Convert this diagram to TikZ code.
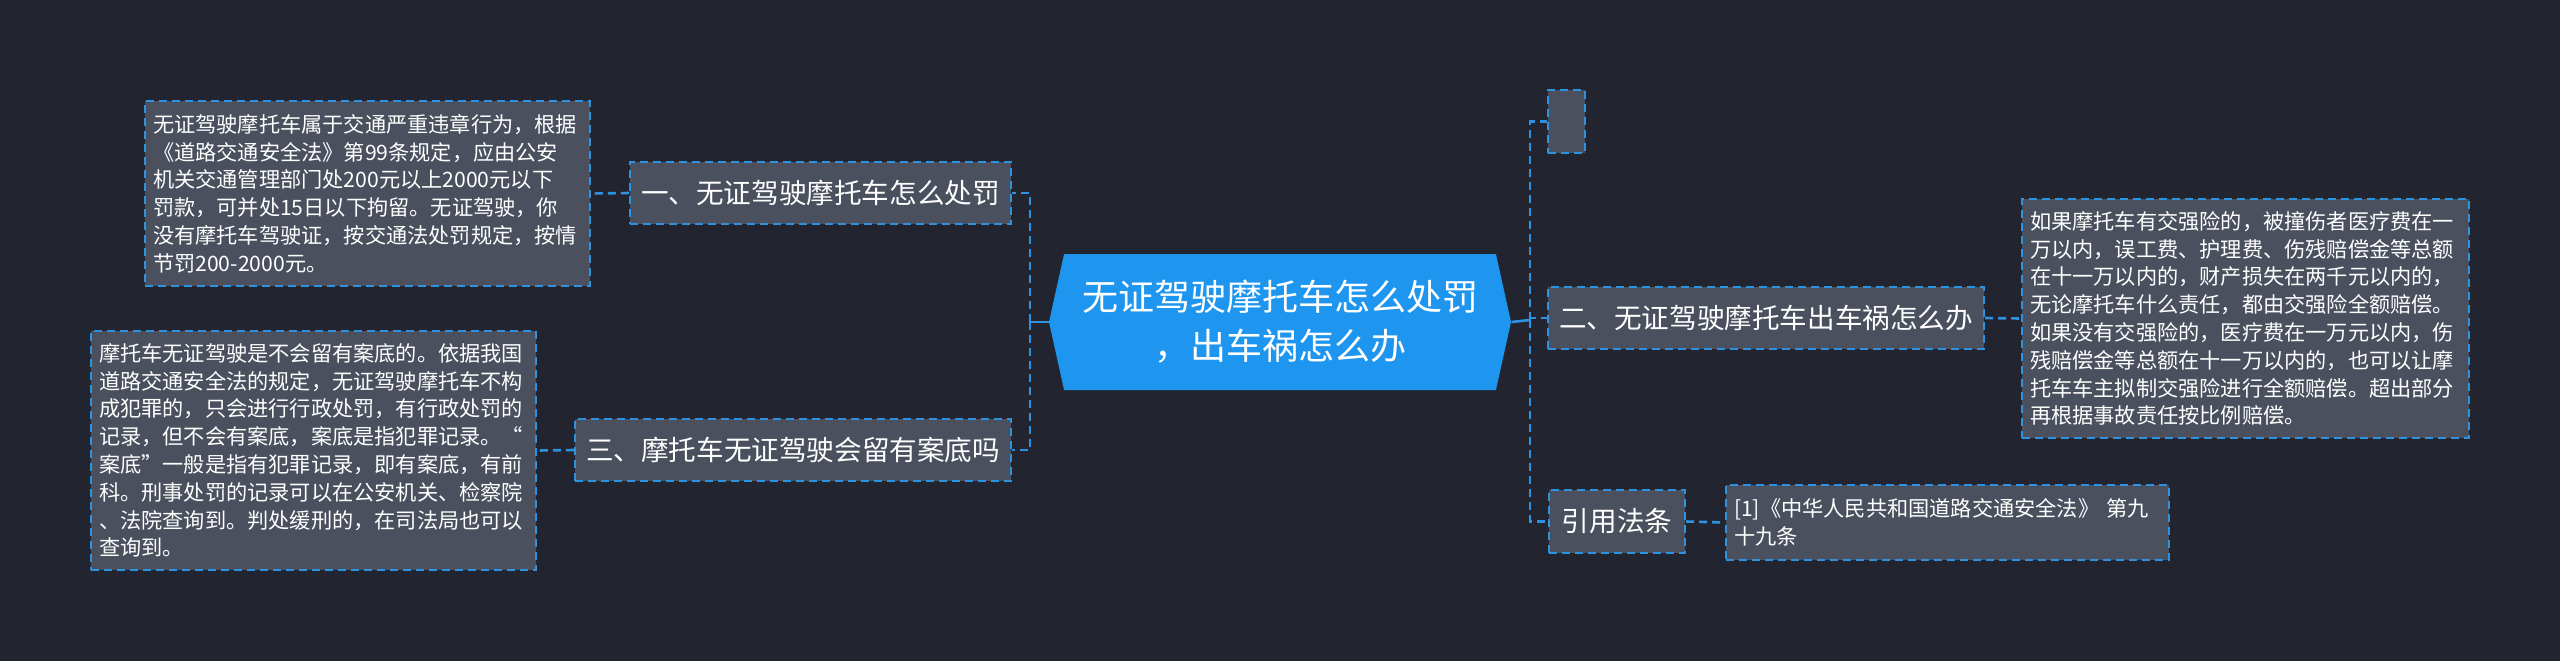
\documentclass[tikz,border=0pt]{standalone}
\usepackage{fontspec}
\setmainfont{Noto Sans CJK SC}
\usetikzlibrary{shapes.symbols}
\definecolor{bgdark}{HTML}{22252F}
\definecolor{boxgray}{HTML}{4A505E}
\definecolor{lineblue}{HTML}{2D93E0}
\definecolor{hubblue}{HTML}{1E96F0}

\begin{document}
\begin{tikzpicture}[x=0.5pt,y=-0.5pt,
  topic/.style={draw=lineblue,line width=1.2pt,dash pattern=on 4pt off 2.5pt,fill=boxgray,
    text=white,inner sep=0pt,minimum height=31pt,font=\fontsize{13.8}{16}\selectfont},
  note/.style={draw=lineblue,line width=1.2pt,dash pattern=on 4pt off 2.5pt,fill=boxgray,
    text=white,inner xsep=4pt,inner ysep=0pt,align=left,font=\fontsize{10.6}{13.9}\selectfont},
  link/.style={draw=lineblue,line width=1.3pt},
  dlink/.style={link,dash pattern=on 4pt off 2.5pt}]
  \fill[bgdark] (0,0) rectangle (2560,661);
  \node[signal,signal to=east and west,signal pointer angle=155,fill=hubblue,text=white,
    align=center,minimum width=231pt,minimum height=68pt,inner sep=0pt,
    font=\fontsize{18}{24.5}\selectfont] (hub) at (1280,322)
    {无证驾驶摩托车怎么处罚\\，出车祸怎么办};
  \node[topic,minimum width=190.5pt] (t1) at (820.5,193) {一、无证驾驶摩托车怎么处罚};
  \node[topic,minimum width=218pt] (t3) at (793,450) {三、摩托车无证驾驶会留有案底吗};
  \node[topic,minimum width=18.5pt,minimum height=31.5pt] (t0) at (1566.5,121.5) {};
  \node[topic,minimum width=218pt] (t2) at (1766,318) {二、无证驾驶摩托车出车祸怎么办};
  \node[topic,minimum width=68pt,minimum height=31.5pt] (t4) at (1617,521.5) {引用法条};
  \node[note,text width=214.5pt,minimum height=92.5pt] (n1) at (367.5,193.5)
    {无证驾驶摩托车属于交通严重违章行为，根据\\
     《道路交通安全法》第99条规定，应由公安\\
     机关交通管理部门处200元以上2000元以下\\
     罚款，可并处15日以下拘留。无证驾驶，你\\
     没有摩托车驾驶证，按交通法处罚规定，按情\\
     节罚200-2000元。};
  \node[note,text width=214.5pt,minimum height=119.5pt] (n3) at (313.5,450.5)
    {摩托车无证驾驶是不会留有案底的。依据我国\\
     道路交通安全法的规定，无证驾驶摩托车不构\\
     成犯罪的，只会进行行政处罚，有行政处罚的\\
     记录，但不会有案底，案底是指犯罪记录。“\\
     案底”一般是指有犯罪记录，即有案底，有前\\
     科。刑事处罚的记录可以在公安机关、检察院\\
     、法院查询到。判处缓刑的，在司法局也可以\\
     查询到。};
  \node[note,text width=215.5pt,minimum height=119.5pt] (n2) at (2245.5,318.5)
    {如果摩托车有交强险的，被撞伤者医疗费在一\\
     万以内，误工费、护理费、伤残赔偿金等总额\\
     在十一万以内的，财产损失在两千元以内的，\\
     无论摩托车什么责任，都由交强险全额赔偿。\\
     如果没有交强险的，医疗费在一万元以内，伤\\
     残赔偿金等总额在十一万以内的，也可以让摩\\
     托车车主拟制交强险进行全额赔偿。超出部分\\
     再根据事故责任按比例赔偿。};
  \node[note,text width=213.5pt,minimum height=37.5pt] (n4) at (1947.5,522.5)
    {[1]《中华人民共和国道路交通安全法》 第九\\
     十九条};
  \coordinate (lt) at (1030,322);
  \coordinate (rt) at (1530,320);
  \draw[link] (hub.west) -- (lt);
  \draw[link] (hub.east) -- (rt);
  \foreach \t in {t1,t3} \draw[dlink] (lt) |- (\t.east);
  \foreach \t in {t0,t2,t4} \draw[dlink] (rt) |- (\t.west);
  \foreach \t/\n in {t1/n1,t3/n3} \draw[dlink] (\t.west) -- (\n.east);
  \foreach \t/\n in {t2/n2,t4/n4} \draw[dlink] (\t.east) -- (\n.west);
\end{tikzpicture}
\end{document}
